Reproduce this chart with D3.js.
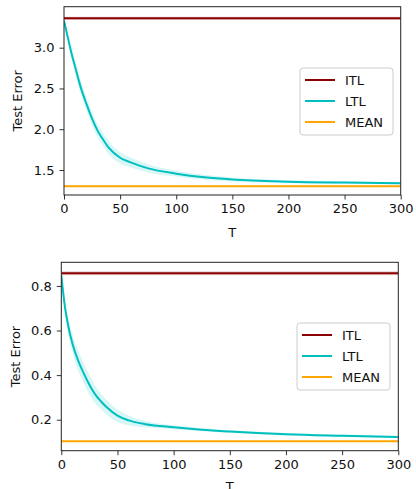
<!DOCTYPE html>
<html><head><meta charset="utf-8">
<script src="https://cdn.jsdelivr.net/npm/d3@7"></script>
<style>body{margin:0;background:#fff}svg{display:block}text{font-family:"DejaVu Sans",sans-serif}</style>
</head><body>
<svg id="c" width="416" height="489"></svg>
<script>
const series = ["ITL","LTL","MEAN"];
const colors = ["#8b0000","#00bfbf","#ffa500"];
const xTicks = [0,50,100,150,200,250,300];
const tKeys = [0,3,6,10,15,20,25,30,35,40,50,60,75,100,125,150,200,250,300];

// Panel 1
const itl1 = 3.36, itl1Err = 0.02, mean1 = 1.30;
const ltl1 = [3.33,3.15,2.97,2.76,2.51,2.31,2.13,1.98,1.87,1.77,1.65,1.59,1.52,1.455,1.41,1.383,1.357,1.345,1.337];
const ltl1Err = [0.01,0.04,0.06,0.07,0.08,0.08,0.08,0.08,0.08,0.08,0.07,0.06,0.05,0.035,0.03,0.025,0.018,0.014,0.012];
const yTicks1 = [1.5,2.0,2.5,3.0];
const yDom1 = [1.193,3.503];

// Panel 2
const itl2 = 0.857, itl2Err = 0.009, mean2 = 0.103;
const ltl2 = [0.85,0.715,0.625,0.54,0.465,0.408,0.357,0.315,0.284,0.258,0.218,0.197,0.180,0.166,0.155,0.147,0.135,0.128,0.122];
const ltl2Err = [0.005,0.025,0.035,0.04,0.045,0.045,0.045,0.04,0.035,0.033,0.028,0.022,0.014,0.009,0.007,0.006,0.005,0.004,0.004];
const yTicks2 = [0.2,0.4,0.6,0.8];
const yDom2 = [0.061,0.906];

const svg = d3.select("#c");
const FS = "13px";

function panel(o){
  const x = d3.scaleLinear().domain([0,300]).range([o.l,o.r]);
  const y = d3.scaleLinear().domain(o.yDom).range([o.b,o.t]);
  const g = svg.append("g");
  const clipId = "clip"+o.id;
  g.append("clipPath").attr("id",clipId).append("rect")
    .attr("x",o.l).attr("y",o.t).attr("width",o.r-o.l).attr("height",o.b-o.t);
  const p = g.append("g").attr("clip-path",`url(#${clipId})`);
  const pts = tKeys.map((t,i)=>({t, v:o.ltl[i], e:o.err[i]}));
  p.append("rect").attr("x",x(0)).attr("width",x(300)-x(0))
    .attr("y",y(o.itl+o.itlErr)).attr("height",y(o.itl-o.itlErr)-y(o.itl+o.itlErr))
    .attr("fill",colors[0]).attr("opacity",0.18);
  p.append("path").datum(pts)
    .attr("d",d3.area().curve(d3.curveMonotoneX).x(d=>x(d.t)).y0(d=>y(d.v-d.e)).y1(d=>y(d.v+d.e)))
    .attr("fill",colors[1]).attr("opacity",0.15).attr("stroke",colors[1]).attr("stroke-opacity",0.12).attr("stroke-width",0.8);
  p.append("line").attr("x1",x(0)).attr("x2",x(300)).attr("y1",y(o.itl)).attr("y2",y(o.itl))
    .attr("stroke",colors[0]).attr("stroke-width",2);
  p.append("path").datum(pts)
    .attr("d",d3.line().curve(d3.curveMonotoneX).x(d=>x(d.t)).y(d=>y(d.v)))
    .attr("fill","none").attr("stroke",colors[1]).attr("stroke-width",2);
  p.append("line").attr("x1",x(0)).attr("x2",x(300)).attr("y1",y(o.mean)).attr("y2",y(o.mean))
    .attr("stroke",colors[2]).attr("stroke-width",2);

  const ax = g.append("g").attr("transform",`translate(0,${o.b})`)
    .call(d3.axisBottom(x).tickValues(xTicks).tickSize(4.5).tickPadding(4.5).tickFormat(d3.format("d")));
  const ay = g.append("g").attr("transform",`translate(${o.l},0)`)
    .call(d3.axisLeft(y).tickValues(o.yTicks).tickSize(4.5).tickPadding(5).tickFormat(d3.format(".1f")));
  [ax,ay].forEach(a=>{
    a.select(".domain").remove();
    a.selectAll("line").attr("stroke","#333").attr("stroke-width",1);
    a.selectAll("text").attr("font-size",FS).attr("fill","#111");
  });
  g.append("rect").attr("x",o.l).attr("y",o.t).attr("width",o.r-o.l).attr("height",o.b-o.t)
    .attr("fill","none").attr("stroke","#222").attr("stroke-width",1);
  g.append("text").attr("x",(o.l+o.r)/2).attr("y",o.xlY).attr("text-anchor","middle")
    .attr("font-size",FS).attr("fill","#111").text("T");
  g.append("text").attr("transform",`translate(${o.ylX},${(o.t+o.b)/2}) rotate(-90)`)
    .attr("text-anchor","middle").attr("dominant-baseline","central")
    .attr("font-size",FS).attr("fill","#111").text("Test Error");

  const lg = g.append("g").attr("transform",`translate(${o.lgX},${o.lgY})`);
  lg.append("rect").attr("width",93).attr("height",67).attr("rx",3)
    .attr("fill","#fff").attr("fill-opacity",0.8).attr("stroke","#ccc").attr("stroke-width",1);
  series.forEach((s,i)=>{
    const yy = 12 + i*21;
    lg.append("line").attr("x1",5).attr("x2",35).attr("y1",yy).attr("y2",yy)
      .attr("stroke",colors[i]).attr("stroke-width",2);
    lg.append("text").attr("x",45).attr("y",yy).attr("dominant-baseline","central")
      .attr("font-size",FS).attr("fill","#111").text(s);
  });
}

panel({id:1,l:64,r:400.7,t:6.7,b:195,yDom:yDom1,yTicks:yTicks1,ltl:ltl1,err:ltl1Err,itl:itl1,itlErr:itl1Err,mean:mean1,xlY:236.5,ylX:17,lgX:300,lgY:68});
panel({id:2,l:61.3,r:398.3,t:262.3,b:450.7,yDom:yDom2,yTicks:yTicks2,ltl:ltl2,err:ltl2Err,itl:itl2,itlErr:itl2Err,mean:mean2,xlY:490.5,ylX:15,lgX:297,lgY:323});
</script>
</body></html>
